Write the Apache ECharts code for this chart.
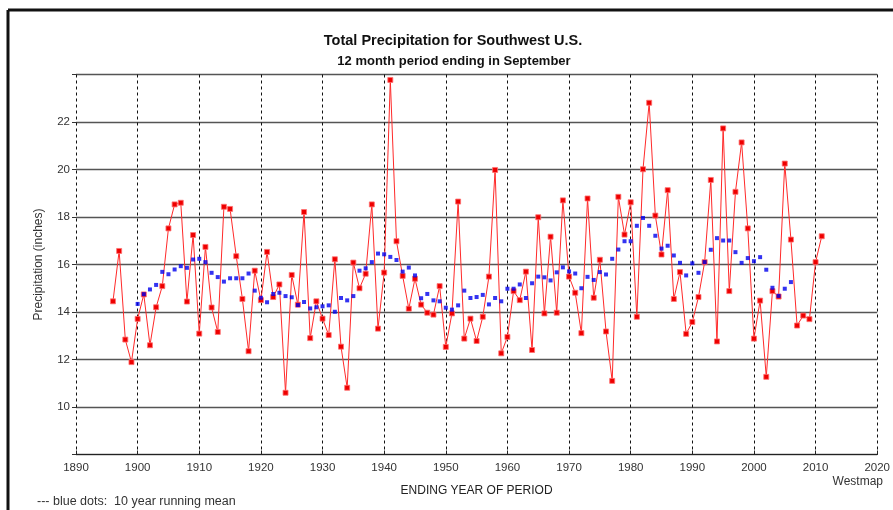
<!DOCTYPE html>
<html>
<head>
<meta charset="utf-8">
<script src="https://cdn.jsdelivr.net/npm/echarts@6/dist/echarts.min.js"></script>
<style>
html,body{margin:0;padding:0;background:#fff;}
#chart{width:893px;height:510px;}
</style>
</head>
<body>
<div id="chart"></div>
<script>
// ---- data ----
const precipStartYear = 1896;
const precipValues = [
  14.45, 16.57, 12.84, 11.89,
  13.71, 14.74, 12.6, 14.2, 15.09, 17.52, 18.53, 18.6, 14.44, 17.24,
  13.09, 16.74, 14.19, 13.16, 18.43, 18.34, 16.35, 14.55, 12.35, 15.74,
  14.5, 16.53, 14.63, 15.16, 10.6, 15.56, 14.31, 18.21, 12.9, 14.45,
  13.72, 13.03, 16.22, 12.54, 10.81, 16.08, 15.0, 15.61, 18.53, 13.3,
  15.66, 23.77, 16.98, 15.52, 14.14, 15.4, 14.31, 13.97, 13.89, 15.09,
  12.53, 13.94, 18.65, 12.88, 13.72, 12.78, 13.8, 15.49, 19.98, 12.26,
  12.95, 14.88, 14.5, 15.7, 12.4, 17.99, 13.94, 17.17, 13.97, 18.7,
  15.49, 14.81, 13.11, 18.78, 14.6, 16.2, 13.18, 11.1, 18.85, 17.26,
  18.62, 13.8, 20.01, 22.81, 18.06, 16.42, 19.13, 14.55, 15.68, 13.08,
  13.58, 14.63, 16.1, 19.56, 12.76, 21.73, 14.88, 19.06, 21.14, 17.52,
  12.88, 14.48, 11.27, 14.88, 14.65, 20.25, 17.05, 13.43, 13.85, 13.7,
  16.1, 17.19
];
const meanStartYear = 1900;
const meanValues = [
  14.34, 14.75, 14.95, 15.14, 15.69, 15.59, 15.79, 15.93, 15.86, 16.21,
  16.24, 16.1, 15.65, 15.47, 15.28, 15.42, 15.42, 15.42, 15.62, 14.9,
  14.6, 14.41, 14.76, 14.81, 14.67, 14.62, 14.29, 14.42, 14.15, 14.2,
  14.24, 14.28, 14.01, 14.59, 14.49, 14.67, 15.74, 15.84, 16.1, 16.46,
  16.43, 16.32, 16.19, 15.7, 15.87, 15.54, 14.58, 14.76, 14.49, 14.45,
  14.18, 14.1, 14.28, 14.9, 14.59, 14.63, 14.72, 14.32, 14.59, 14.45,
  14.98, 14.98, 15.16, 14.59, 15.21, 15.49, 15.46, 15.33, 15.67, 15.88,
  15.71, 15.62, 15.0, 15.48, 15.35, 15.68, 15.58, 16.24, 16.63, 16.98,
  16.98, 17.63, 17.96, 17.63, 17.21, 16.67, 16.79, 16.38, 16.07, 15.54,
  16.05, 15.65, 16.1, 16.62, 17.11, 17.01, 17.01, 16.52, 16.07, 16.27,
  16.14, 16.31, 15.78, 15.02, 14.68, 14.98, 15.26
];
const yTickLabels = ['10', '12', '14', '16', '18', '20', '22'];
const titleText = 'Total Precipitation for Southwest U.S.';
const subtitleText = '12 month period ending in September';
const xAxisTitle = 'ENDING YEAR OF PERIOD';
const yAxisTitle = 'Precipitation (inches)';
const noteText = '--- blue dots:  10 year running mean';
const sourceText = 'Westmap';

// ---- build ----
const precipData = precipValues.map((v, i) => [precipStartYear + i, v]);
const meanData = meanValues.map((v, i) => [meanStartYear + i, v]);

const sans = "'Liberation Sans', Arial, sans-serif";
const chart = echarts.init(document.getElementById('chart'), null, {renderer: 'canvas'});
chart.setOption({
  animation: false,
  backgroundColor: '#fff',
  grid: {left: 76, right: 14, top: 74.5, bottom: 55.5, show: false},
  xAxis: {
    type: 'value', min: 1890, max: 2020, interval: 10,
    name: xAxisTitle, nameLocation: 'middle', nameGap: 30,
    nameTextStyle: {color: '#222', fontSize: 12, fontFamily: sans},
    axisLine: {show: true, lineStyle: {color: '#222', width: 1.2}},
    axisTick: {show: true, inside: true, length: 4, lineStyle: {color: '#222'}},
    axisLabel: {color: '#333', fontSize: 11.5, fontFamily: sans, margin: 7, formatter: v => String(v)},
    splitLine: {show: true, lineStyle: {color: '#111', type: [3, 3], width: 1}}
  },
  yAxis: {
    type: 'value', min: 8, max: 24, interval: 2,
    name: yAxisTitle, nameLocation: 'middle', nameGap: 31,
    nameTextStyle: {color: '#333', fontSize: 12, fontFamily: sans},
    axisLine: {show: false},
    axisTick: {show: true, length: 4, lineStyle: {color: '#333'}},
    axisLabel: {
      color: '#333', fontSize: 11.5, fontFamily: sans, margin: 6,
      formatter: v => (yTickLabels.indexOf(String(v)) >= 0 ? String(v) : '')
    },
    splitLine: {show: true, lineStyle: {color: '#555', width: 1.3}}
  },
  series: [
    {
      name: 'Precipitation', type: 'line', data: precipData,
      symbol: 'rect', symbolSize: 5, showSymbol: true,
      lineStyle: {color: '#ff2a2a', width: 1},
      itemStyle: {color: '#ee0000', borderColor: '#ff7070', borderWidth: 0.8},
      z: 3
    },
    {
      name: '10 year running mean', type: 'scatter', data: meanData,
      symbol: 'rect', symbolSize: 4,
      itemStyle: {color: '#0000ee'},
      z: 4
    }
  ],
  graphic: [
    {type: 'line', shape: {x1: 8, y1: 10, x2: 893, y2: 10}, style: {stroke: '#111', lineWidth: 3}},
    {type: 'line', shape: {x1: 8, y1: 10, x2: 8, y2: 510}, style: {stroke: '#111', lineWidth: 3}},
    {type: 'text', x: 453, y: 41, style: {text: titleText, fill: '#111', font: "bold 14.5px " + sans, textAlign: 'center', textVerticalAlign: 'middle'}},
    {type: 'text', x: 454, y: 61, style: {text: subtitleText, fill: '#111', font: "bold 13px " + sans, textAlign: 'center', textVerticalAlign: 'middle'}},
    {type: 'text', x: 883, y: 482, style: {text: sourceText, fill: '#333', font: "12px " + sans, textAlign: 'right', textVerticalAlign: 'middle'}},
    {type: 'text', x: 37, y: 502, style: {text: noteText, fill: '#333', font: "12.5px " + sans, textAlign: 'left', textVerticalAlign: 'middle'}}
  ]
});
</script>
</body>
</html>
